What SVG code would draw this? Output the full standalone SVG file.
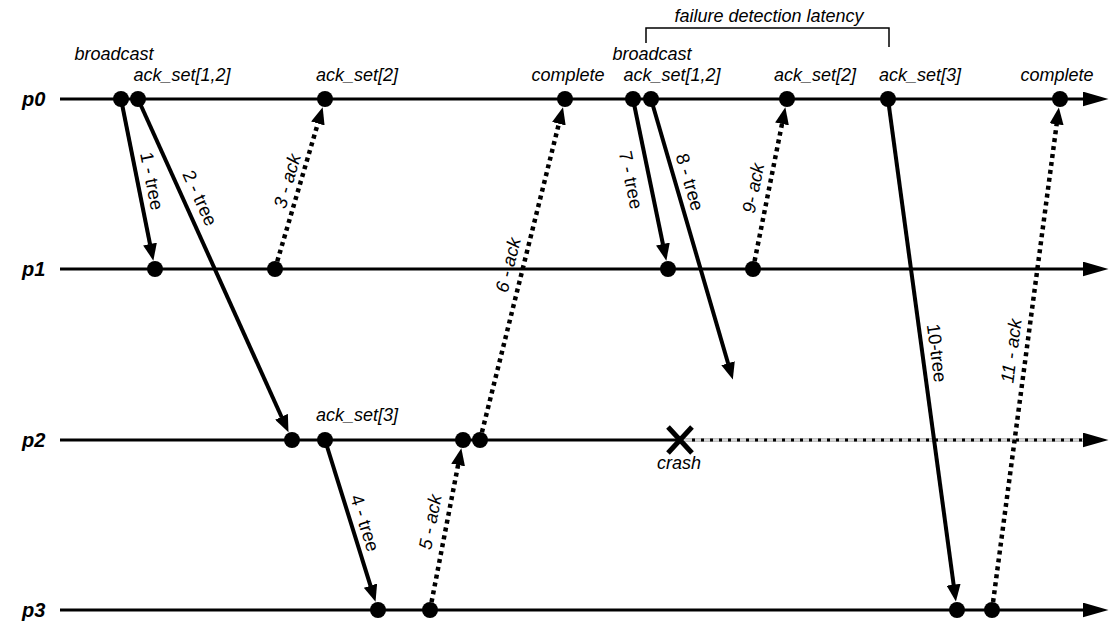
<svg xmlns="http://www.w3.org/2000/svg" width="1110" height="626" viewBox="0 0 1110 626">
<style>
text { font-family: "Liberation Sans", Arial, sans-serif; fill: #000; }
.ev { font-size: 18px; font-style: italic; text-anchor: middle; }
.pl { font-size: 20px; font-style: italic; font-weight: bold; }
.ml { font-size: 18.5px; text-anchor: middle; dominant-baseline: central; }
.it { font-style: italic; }
.tl { stroke: #000; stroke-width: 3; fill: none; }
.msg { stroke: #000; stroke-width: 4; fill: none; marker-end: url(#ah); }
.ack { stroke: #000; stroke-width: 4.5; fill: none; stroke-dasharray: 4 4; marker-end: url(#ah); }
.dot { fill: #000; }
</style>
<defs>
<marker id="ah" markerUnits="userSpaceOnUse" viewBox="0 0 17 14" markerWidth="17" markerHeight="14" refX="0.5" refY="7" orient="auto">
<path d="M0,0 L17,7 L0,14 z" fill="#000"/>
</marker>
<marker id="th" markerUnits="userSpaceOnUse" viewBox="0 0 26 15" markerWidth="26" markerHeight="15" refX="0.5" refY="7.5" orient="auto">
<path d="M0,0 L26,7.5 L0,15 z" fill="#000"/>
</marker>
</defs>

<g id="p0">
<text class="pl" x="22" y="106">p0</text>
<line class="tl" x1="60" y1="99" x2="1083" y2="99" marker-end="url(#th)"/>
</g>
<g id="p1">
<text class="pl" x="22" y="276">p1</text>
<line class="tl" x1="60" y1="269" x2="1083" y2="269" marker-end="url(#th)"/>
</g>
<g id="p2">
<text class="pl" x="22" y="447">p2</text>
<line class="tl" x1="60" y1="440" x2="680" y2="440"/>
<line x1="680" y1="440" x2="1084" y2="440" stroke="#aaaaaa" stroke-width="3.5"/>
<line x1="680" y1="440" x2="1084" y2="440" stroke="#ffffff" stroke-width="1.2"/>
<line x1="692" y1="440" x2="1083" y2="440" stroke="#000" stroke-width="3" stroke-dasharray="3 6" marker-end="url(#th)"/>
</g>
<g id="p3">
<text class="pl" x="22" y="617">p3</text>
<line class="tl" x1="60" y1="610" x2="1083" y2="610" marker-end="url(#th)"/>
</g>

<g id="bracket">
<path d="M646,43 V28 H889 V47" fill="none" stroke="#000" stroke-width="1.5"/>
<text class="ev" x="769" y="22">failure detection latency</text>
</g>

<g id="connectors">
<line class="msg" x1="121" y1="99" x2="150.1" y2="244.5"/>
<line class="msg" x1="138" y1="99" x2="281.7" y2="417.2"/>
<line class="ack" x1="275" y1="269" x2="318.0" y2="123.0"/>
<line class="msg" x1="325" y1="440" x2="370.6" y2="586.1"/>
<line class="ack" x1="430" y1="610" x2="458.2" y2="464.5"/>
<line class="ack" x1="480" y1="440" x2="559.0" y2="123.3"/>
<line class="msg" x1="633" y1="99" x2="663.0" y2="244.5"/>
<line class="msg" x1="651" y1="99" x2="728.2" y2="363.7"/>
<line class="ack" x1="753" y1="269" x2="782.1" y2="123.5"/>
<line class="msg" x1="888" y1="99" x2="953.7" y2="585.2"/>
<line class="ack" x1="992" y1="610" x2="1056.7" y2="123.8"/>
<text class="ml" transform="translate(152,181) rotate(78.7)">1 - tree</text>
<text class="ml" transform="translate(200,198) rotate(65.7)">2 - tree</text>
<text class="ml it" transform="translate(287,181) rotate(-73.6)">3 - ack</text>
<text class="ml" transform="translate(365,523) rotate(72.7)">4 - tree</text>
<text class="ml it" transform="translate(430,522) rotate(-79)">5 - ack</text>
<text class="ml it" transform="translate(508,265) rotate(-76)">6 - ack</text>
<text class="ml" transform="translate(631,180) rotate(78.4)">7 - tree</text>
<text class="ml" transform="translate(690,182) rotate(73.7)">8 - tree</text>
<text class="ml it" transform="translate(753,188) rotate(-78.7)">9- ack</text>
<text class="ml" transform="translate(937,353) rotate(82.3)">10-tree</text>
<text class="ml it" transform="translate(1011,351) rotate(-82.4)">11 - ack</text>
</g>

<g id="events">
<g id="e-p0-broadcast1"><circle class="dot" cx="121" cy="99" r="8"/><text class="ev" x="114" y="60">broadcast</text></g>
<g id="e-p0-ackset12a"><circle class="dot" cx="138" cy="99" r="8"/><text class="ev" x="182" y="80.5">ack_set[1,2]</text></g>
<g id="e-p0-ackset2a"><circle class="dot" cx="325" cy="99" r="8"/><text class="ev" x="357" y="80.5">ack_set[2]</text></g>
<g id="e-p0-complete1"><circle class="dot" cx="565" cy="99" r="8"/><text class="ev" x="568" y="80.5">complete</text></g>
<g id="e-p0-broadcast2"><circle class="dot" cx="633" cy="99" r="8"/><text class="ev" x="652" y="60">broadcast</text></g>
<g id="e-p0-ackset12b"><circle class="dot" cx="651" cy="99" r="8"/><text class="ev" x="672" y="80.5">ack_set[1,2]</text></g>
<g id="e-p0-ackset2b"><circle class="dot" cx="787" cy="99" r="8"/><text class="ev" x="815" y="80.5">ack_set[2]</text></g>
<g id="e-p0-ackset3"><circle class="dot" cx="888" cy="99" r="8"/><text class="ev" x="920" y="80.5">ack_set[3]</text></g>
<g id="e-p0-complete2"><circle class="dot" cx="1060" cy="99" r="8"/><text class="ev" x="1057" y="80.5">complete</text></g>
<g id="e-p1-a"><circle class="dot" cx="155" cy="269" r="8"/></g>
<g id="e-p1-b"><circle class="dot" cx="275" cy="269" r="8"/></g>
<g id="e-p1-c"><circle class="dot" cx="668" cy="269" r="8"/></g>
<g id="e-p1-d"><circle class="dot" cx="753" cy="269" r="8"/></g>
<g id="e-p2-a"><circle class="dot" cx="292" cy="440" r="8"/></g>
<g id="e-p2-ackset3"><circle class="dot" cx="325" cy="440" r="8"/><text class="ev" x="357" y="421">ack_set[3]</text></g>
<g id="e-p2-c"><circle class="dot" cx="463" cy="440" r="8"/></g>
<g id="e-p2-d"><circle class="dot" cx="480" cy="440" r="8"/></g>
<g id="e-p2-crash"><path d="M668,427 L692,453 M668,453 L692,427" stroke="#000" stroke-width="5" fill="none"/><text class="ev" x="679" y="469">crash</text></g>
<g id="e-p3-a"><circle class="dot" cx="378" cy="610" r="8"/></g>
<g id="e-p3-b"><circle class="dot" cx="430" cy="610" r="8"/></g>
<g id="e-p3-c"><circle class="dot" cx="957" cy="610" r="8"/></g>
<g id="e-p3-d"><circle class="dot" cx="992" cy="610" r="8"/></g>
</g>
</svg>
